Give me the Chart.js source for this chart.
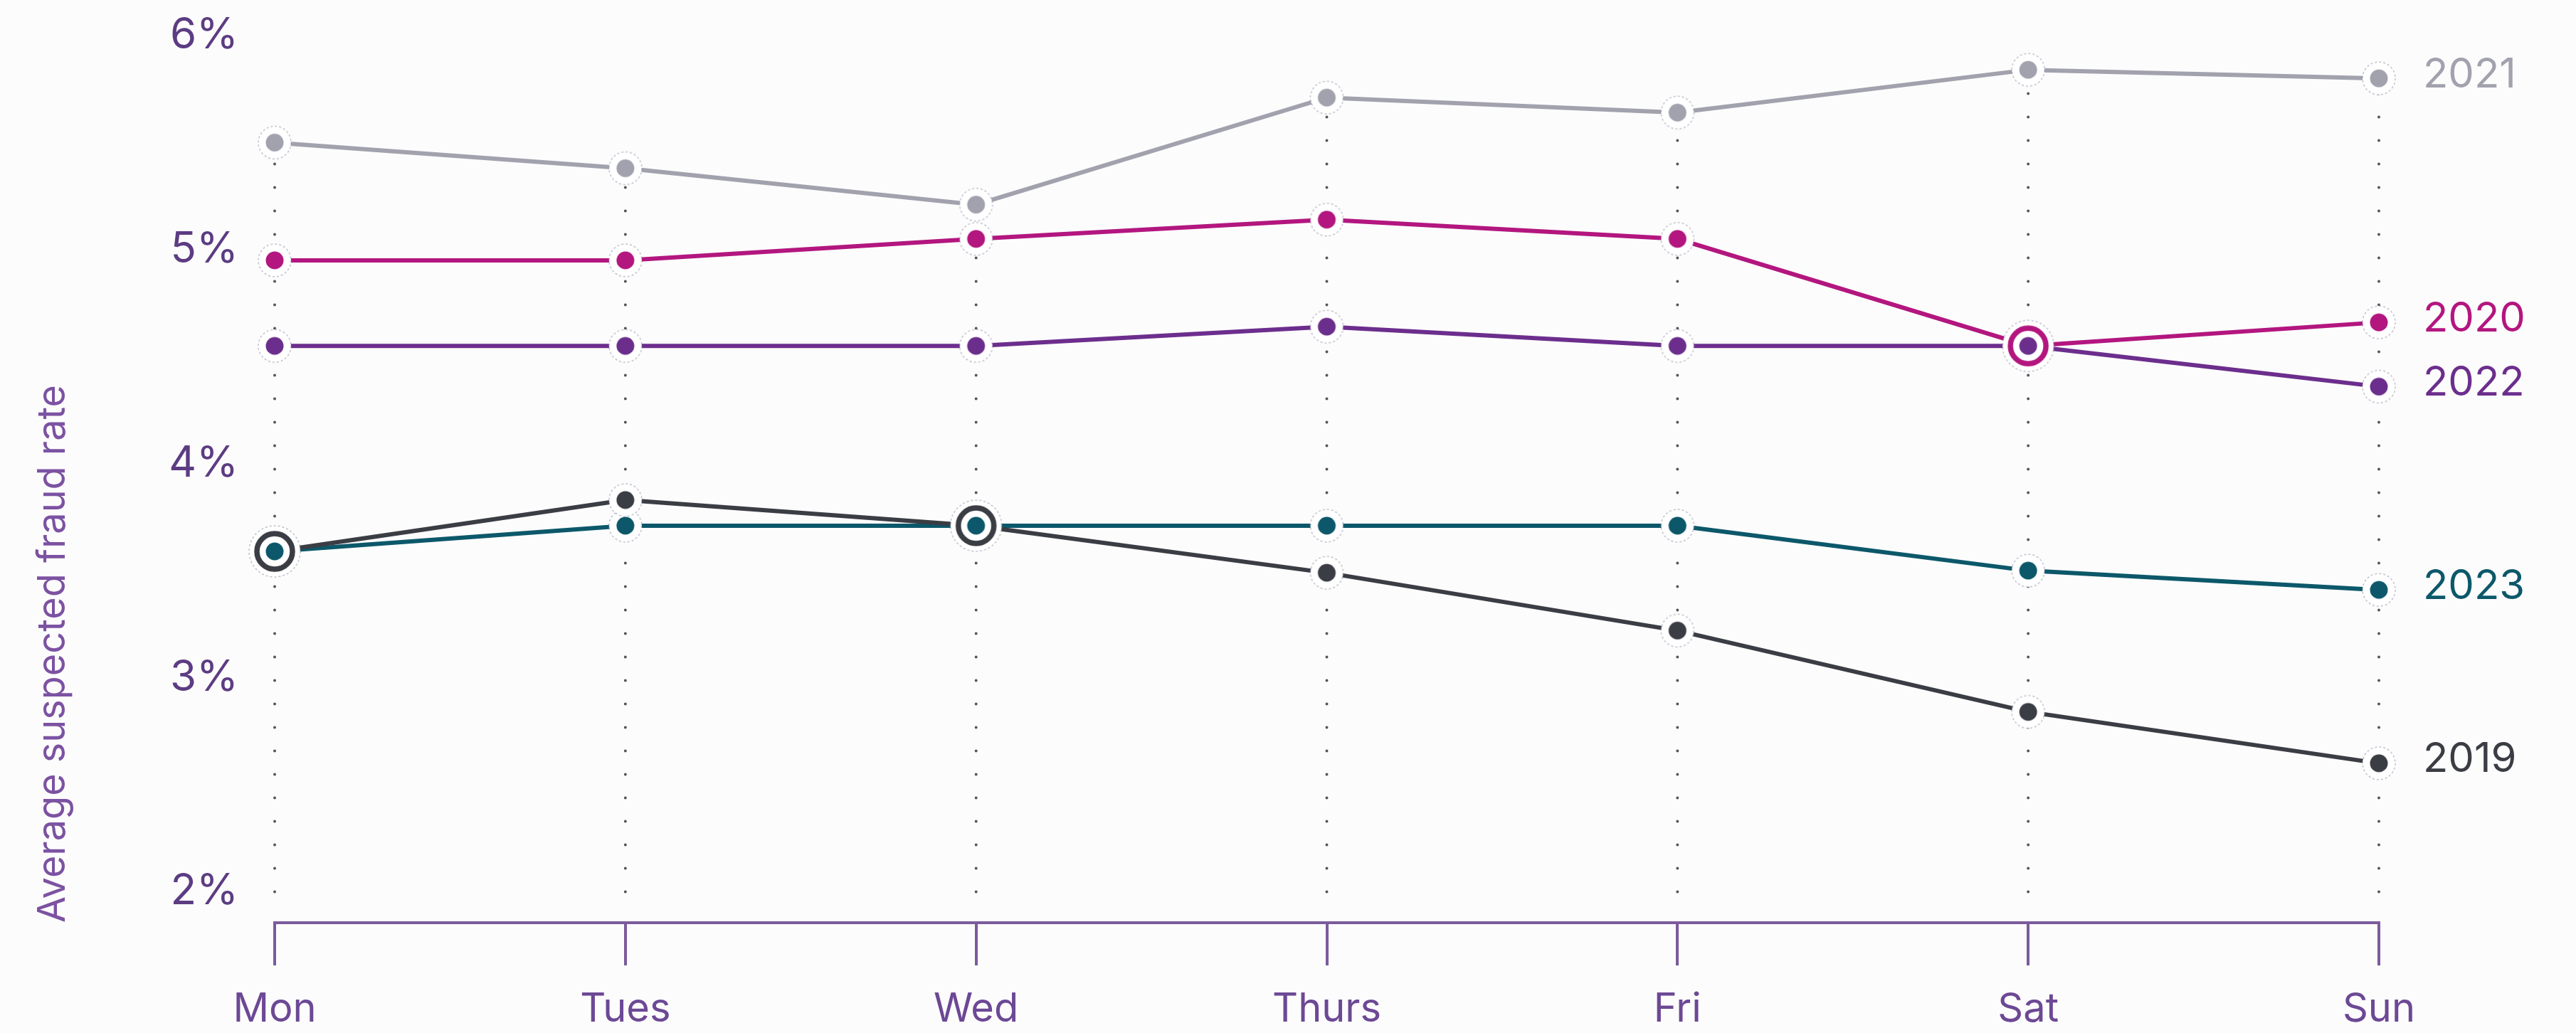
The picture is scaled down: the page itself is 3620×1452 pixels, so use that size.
<!DOCTYPE html>
<html>
<head>
<meta charset="utf-8">
<script src="https://cdn.jsdelivr.net/npm/chart.js@4.4.1/dist/chart.umd.min.js"></script>
<style>
  html, body { margin: 0; padding: 0; background: #fcfcfc; }
  #wrap { width: 3620px; height: 1452px; }
</style>
</head>
<body>
<div id="wrap"><canvas id="fraud" width="3620" height="1452"></canvas></div>
<script>
// days of the week
const days = ['Mon', 'Tues', 'Wed', 'Thurs', 'Fri', 'Sat', 'Sun'];

// average suspected fraud rate (%) per day, by year
const rate2019 = [3.59, 3.83, 3.71, 3.49, 3.22, 2.84, 2.60];
const rate2020 = [4.95, 4.95, 5.05, 5.14, 5.05, 4.55, 4.66];
const rate2021 = [5.50, 5.38, 5.21, 5.71, 5.64, 5.84, 5.80];
const rate2022 = [4.55, 4.55, 4.55, 4.64, 4.55, 4.55, 4.36];
const rate2023 = [3.59, 3.71, 3.71, 3.71, 3.71, 3.50, 3.41];

const yTicks = [2, 3, 4, 5, 6];

const series = [
    { label: '2019', data: rate2019, color: '#3b3d44' },
    { label: '2020', data: rate2020, color: '#b3167f' },
    { label: '2021', data: rate2021, color: '#a2a2ae' },
    { label: '2022', data: rate2022, color: '#6c2e8d' },
    { label: '2023', data: rate2023, color: '#0c586a' },
];

const FONT = 'Inter, "Liberation Sans", sans-serif';

// marker images, cached by key
const markerCache = {};

function haloCircle(g, m, r) {
    g.beginPath();
    g.arc(m, m, r, 0, Math.PI * 2);
    g.fillStyle = '#ffffff';
    g.fill();
    g.setLineDash([3, 3]);
    g.strokeStyle = 'rgba(140,140,165,0.55)';
    g.lineWidth = 1.5;
    g.stroke();
    g.setLineDash([]);
}

// plain dot with a white halo
function dotMarker(color) {
    const key = 'dot' + color;
    if (markerCache[key]) return markerCache[key];
    const c = document.createElement('canvas');
    c.width = c.height = 52;
    const g = c.getContext('2d');
    haloCircle(g, 26, 23);
    g.beginPath();
    g.arc(26, 26, 12.5, 0, Math.PI * 2);
    g.fillStyle = color;
    g.fill();
    markerCache[key] = c;
    return c;
}

// ring around another series' dot, where two series share a value
function ringMarker(color, innerColor) {
    const key = 'ring' + color + innerColor;
    if (markerCache[key]) return markerCache[key];
    const c = document.createElement('canvas');
    c.width = c.height = 78;
    const g = c.getContext('2d');
    haloCircle(g, 39, 36);
    g.beginPath();
    g.arc(39, 39, 25, 0, Math.PI * 2);
    g.strokeStyle = color;
    g.lineWidth = 7.5;
    g.stroke();
    g.beginPath();
    g.arc(39, 39, 12.5, 0, Math.PI * 2);
    g.fillStyle = innerColor;
    g.fill();
    markerCache[key] = c;
    return c;
}

// which later (underneath) series shares this value, if any
function sharedWith(dsIndex, i) {
    for (let k = dsIndex + 1; k < series.length; k++) {
        if (series[k].data[i] === series[dsIndex].data[i]) return k;
    }
    return -1;
}

// dotted drop line from the highest point of each day down to 2%
const dropLines = {
    id: 'dropLines',
    beforeDatasetsDraw(chart) {
        const { ctx, scales: { y } } = chart;
        const bottom = y.getPixelForValue(yTicks[0]);
        ctx.save();
        ctx.strokeStyle = '#55555b';
        ctx.lineWidth = 4;
        ctx.lineCap = 'round';
        ctx.setLineDash([0, 33]);
        days.forEach((d, i) => {
            let top = Infinity;
            let x = 0;
            chart.data.datasets.forEach((ds, k) => {
                const pt = chart.getDatasetMeta(k).data[i];
                top = Math.min(top, pt.y);
                x = pt.x;
            });
            ctx.beginPath();
            ctx.moveTo(x, bottom);
            ctx.lineTo(x, top);
            ctx.stroke();
        });
        ctx.restore();
    }
};

// year labels at the end of each line
const endLabels = {
    id: 'endLabels',
    afterDatasetsDraw(chart) {
        const ctx = chart.ctx;
        ctx.save();
        ctx.font = '58px ' + FONT;
        ctx.textAlign = 'left';
        ctx.textBaseline = 'middle';
        chart.data.datasets.forEach((ds, k) => {
            const pts = chart.getDatasetMeta(k).data;
            const last = pts[pts.length - 1];
            ctx.fillStyle = series[k].color;
            ctx.fillText(ds.label, last.x + 62, last.y - 5);
        });
        ctx.restore();
    }
};

const ctx = document.getElementById('fraud').getContext('2d');
const chart = new Chart(ctx, {
    type: 'line',
    data: {
        labels: days,
        datasets: series.map((s, k) => ({
            label: s.label,
            data: s.data,
            borderColor: s.color,
            borderWidth: 6,
            tension: 0,
            clip: false,
            pointStyle: (c) => {
                const other = sharedWith(k, c.dataIndex);
                return other >= 0 ? ringMarker(s.color, series[other].color) : dotMarker(s.color);
            },
        })),
    },
    options: {
        responsive: false,
        animation: false,
        devicePixelRatio: 1,
        layout: { padding: { top: 50, right: 277, bottom: 0, left: 0 } },
        plugins: {
            legend: { display: false },
            tooltip: { enabled: false },
        },
        scales: {
            x: {
                offset: false,
                afterFit(scale) {
                    scale.height = 155;
                },
                grid: {
                    display: true,
                    drawOnChartArea: false,
                    drawTicks: true,
                    tickLength: 60,
                    color: '#7b5b9c',
                    lineWidth: 4,
                },
                border: { display: true, color: '#7b5b9c', width: 4 },
                ticks: {
                    color: '#6c4895',
                    padding: 30,
                    font: { family: FONT, size: 56, lineHeight: 1.15 },
                },
            },
            y: {
                min: 1.855,
                max: 6,
                afterBuildTicks(scale) {
                    scale.ticks = yTicks.map(v => ({ value: v }));
                },
                afterFit(scale) {
                    scale.width = 386;
                    // tick padding is horizontal here; keep it out of the vertical layout
                    scale.paddingTop = 0;
                    scale.paddingBottom = 0;
                },
                grid: { display: false, drawTicks: false },
                border: { display: false },
                ticks: {
                    color: '#5c3c82',
                    padding: 51,
                    font: { family: FONT, size: 60 },
                    callback: (v) => v + '%',
                },
                title: {
                    display: true,
                    text: 'Average suspected fraud rate',
                    align: 'start',
                    color: '#7c52a2',
                    font: { family: FONT, size: 54 },
                    padding: { top: 42, bottom: 0 },
                },
            },
        },
    },
    plugins: [dropLines, endLabels],
});
</script>
</body>
</html>
